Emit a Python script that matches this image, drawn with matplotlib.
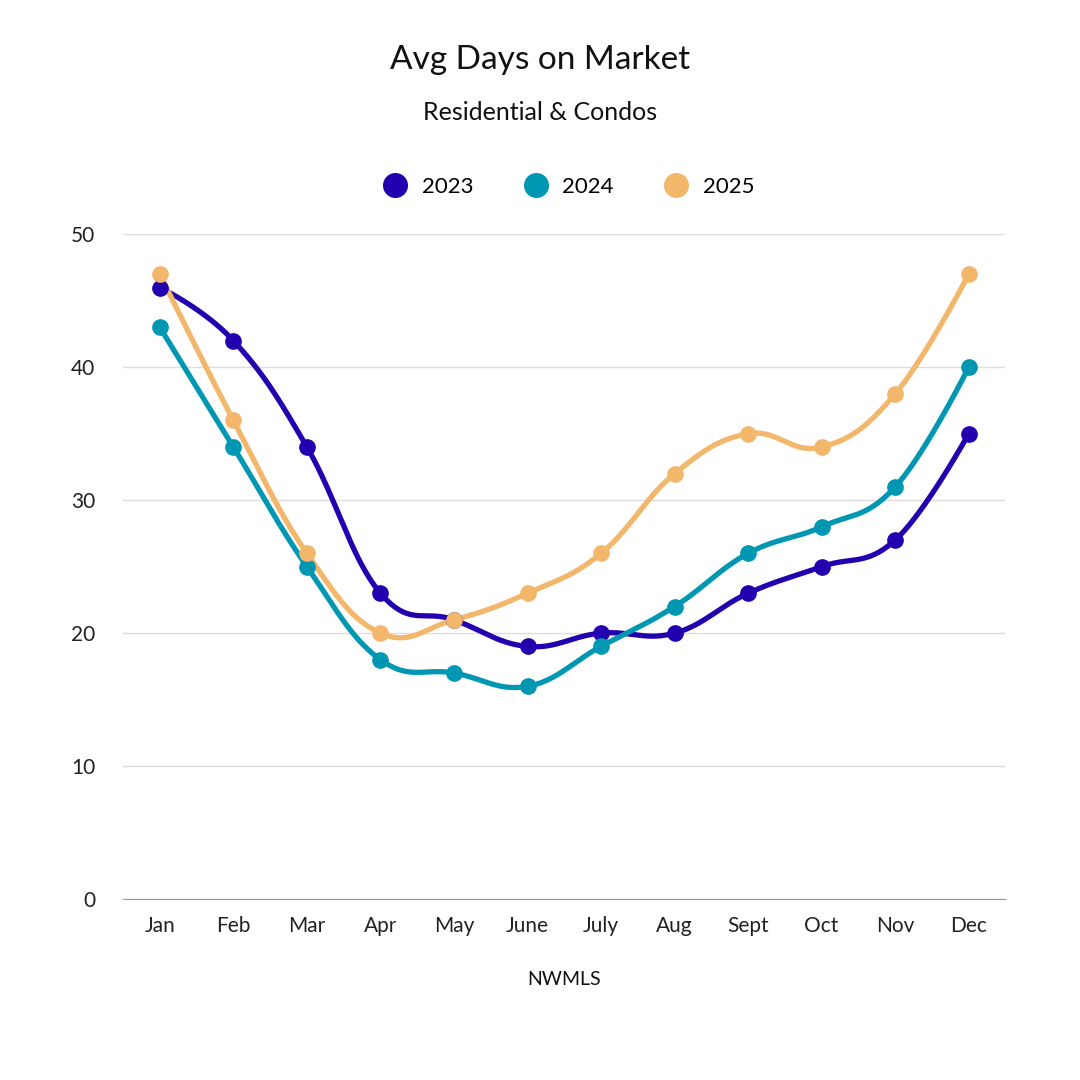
import numpy as np
import matplotlib.pyplot as plt

months = ['Jan', 'Feb', 'Mar', 'Apr', 'May', 'June', 'July', 'Aug', 'Sept', 'Oct', 'Nov', 'Dec']
dom_2023 = [46, 42, 34, 23, 21, 19, 20, 20, 23, 25, 27, 35]
dom_2024 = [43, 34, 25, 18, 17, 16, 19, 22, 26, 28, 31, 40]
dom_2025 = [47, 36, 26, 20, 21, 23, 26, 32, 35, 34, 38, 47]

colors = {'2023': '#2200b0', '2024': '#0097b2', '2025': '#f3b76c'}

plt.rcParams['font.family'] = ['Lato', 'DejaVu Sans']


def spline(x, y, n=40, smoothing=1.5):
    # bezier spline, control points taken from the neighbouring points
    x = np.asarray(x, float)
    y = np.asarray(y, float)
    k = len(x)
    lx, ly, rx, ry = x.copy(), y.copy(), x.copy(), y.copy()
    den = smoothing + 1
    for i in range(1, k - 1):
        lcx = (smoothing * x[i] + x[i - 1]) / den
        lcy = (smoothing * y[i] + y[i - 1]) / den
        rcx = (smoothing * x[i] + x[i + 1]) / den
        rcy = (smoothing * y[i] + y[i + 1]) / den
        corr = (rcy - lcy) * (rcx - x[i]) / (rcx - lcx) + y[i] - rcy
        lx[i], ly[i], rx[i], ry[i] = lcx, lcy + corr, rcx, rcy + corr
    t = np.linspace(0, 1, n)[:, None]
    xs, ys = [], []
    for i in range(k - 1):
        P = np.array([[x[i], y[i]], [rx[i], ry[i]], [lx[i + 1], ly[i + 1]], [x[i + 1], y[i + 1]]])
        B = ((1 - t)**3 * P[0] + 3 * (1 - t)**2 * t * P[1]
             + 3 * (1 - t) * t**2 * P[2] + t**3 * P[3])
        xs.append(B[:, 0])
        ys.append(B[:, 1])
    return np.concatenate(xs), np.concatenate(ys)


fig = plt.figure(figsize=(10.8, 10.8), dpi=100)
ax = fig.add_axes([0.114, 0.1676, 0.817, 0.6154])

idx = np.arange(len(months))
for label, vals in [('2023', dom_2023), ('2024', dom_2024), ('2025', dom_2025)]:
    xs, ys = spline(idx, vals)
    ax.plot(xs, ys, color=colors[label], lw=3.8, solid_capstyle='round', zorder=3)
    ax.plot(idx, vals, 'o', color=colors[label], ms=11, zorder=4)

ax.set_xlim(-0.5, 11.5)
ax.set_ylim(0, 50)
ax.set_yticks([0, 10, 20, 30, 40, 50])
ax.set_xticks(idx)
ax.set_xticklabels(months)
ax.grid(axis='y', color='#dddddd', lw=1)
ax.set_axisbelow(True)
for s in ['top', 'right', 'left']:
    ax.spines[s].set_visible(False)
ax.spines['bottom'].set_color('#999999')
ax.tick_params(axis='both', length=0, labelsize=15, colors='#222222')
ax.tick_params(axis='x', pad=12)
ax.tick_params(axis='y', pad=20)

fig.text(0.5, 0.944, 'Avg Days on Market', ha='center', va='center', fontsize=24, color='#111111')
fig.text(0.5, 0.896, 'Residential & Condos', ha='center', va='center', fontsize=18, color='#111111')
fig.text(0.522, 0.093, 'NWMLS', ha='center', va='center', fontsize=14, color='#111111')

handles = [plt.Line2D([], [], ls='', marker='o', ms=17, color=colors[k]) for k in colors]
fig.legend(handles, list(colors.keys()), loc='center', bbox_to_anchor=(0.522, 0.827), ncol=3,
           frameon=False, fontsize=16, handletextpad=0.2, columnspacing=1.8)

fig.savefig('out.png', dpi=100)
